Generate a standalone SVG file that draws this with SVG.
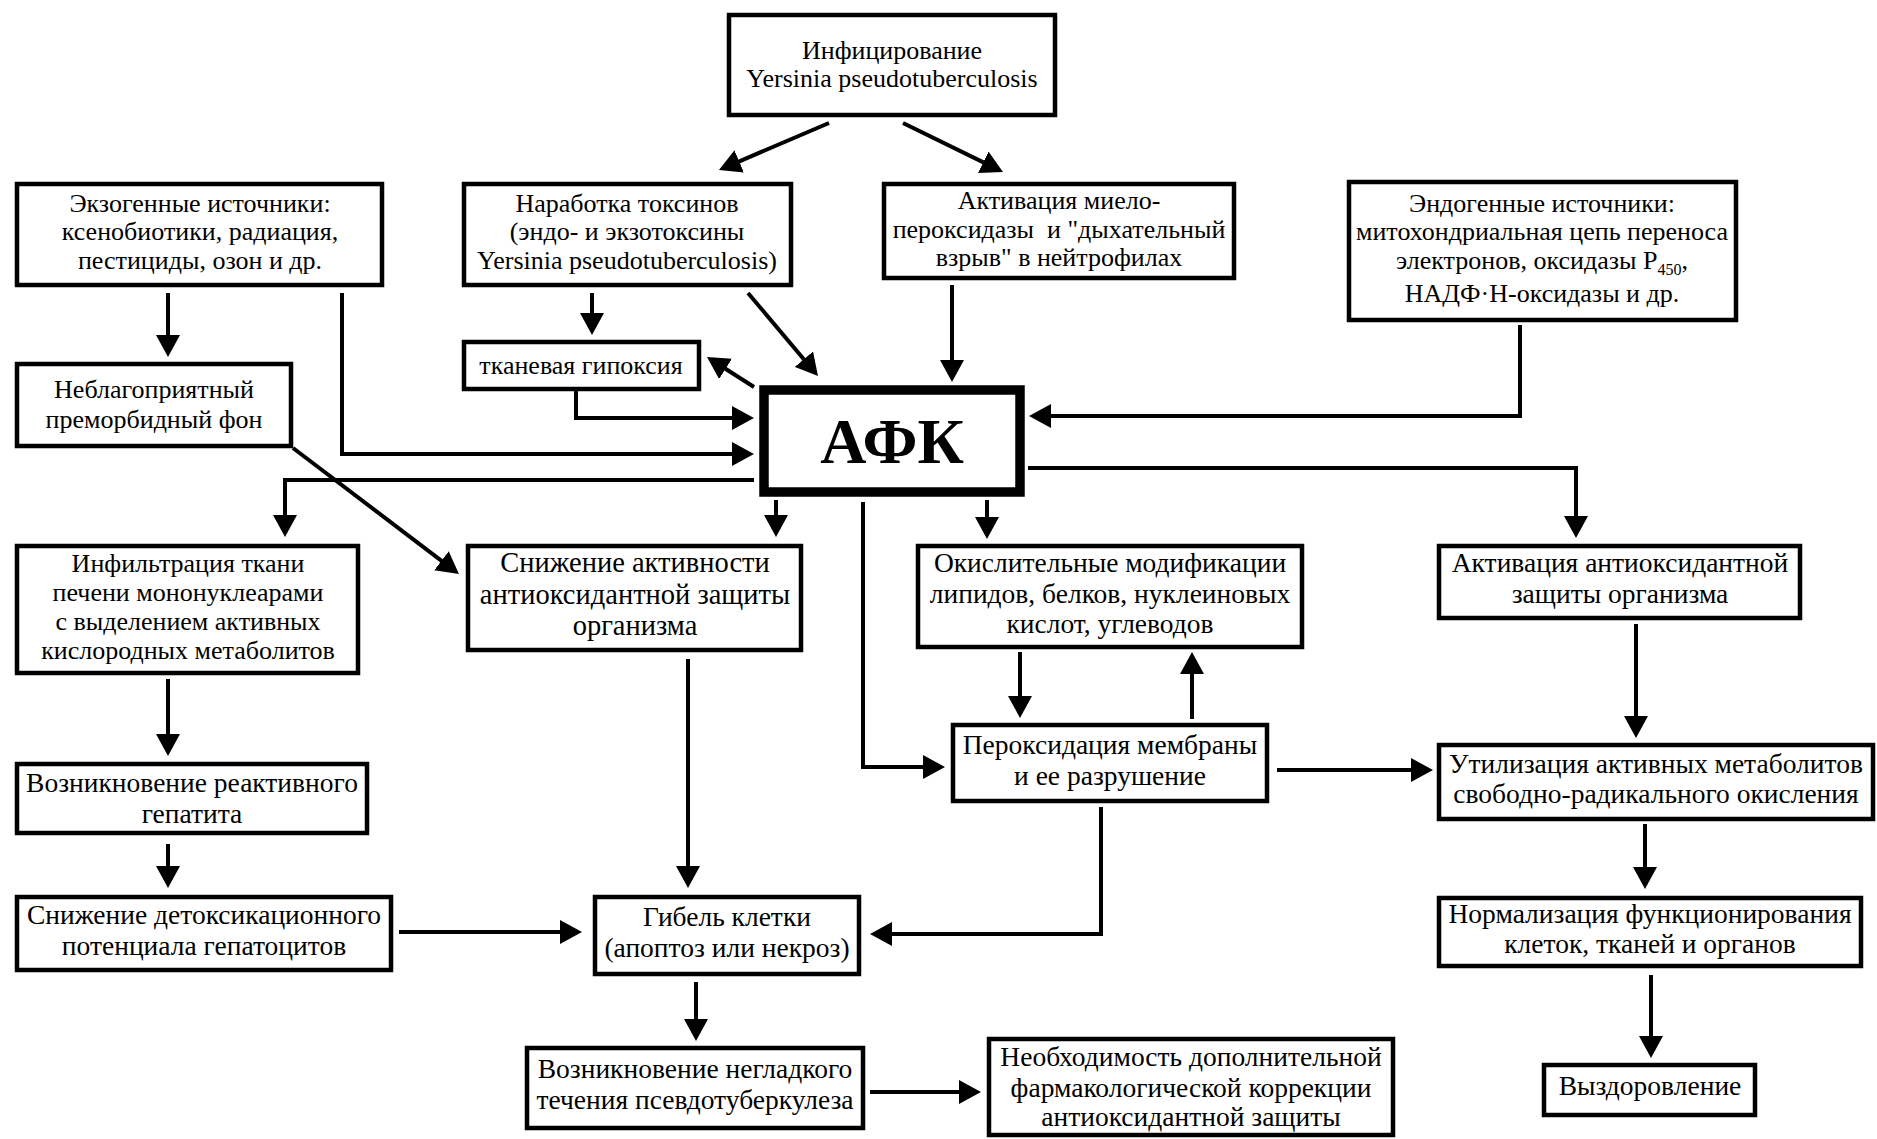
<svg xmlns="http://www.w3.org/2000/svg" width="1877" height="1139" viewBox="0 0 1877 1139">
<style>
.box{fill:#fff;stroke:#000;stroke-width:4.5}
.afk{fill:#fff;stroke:#000;stroke-width:9.5}
.t{font-family:"Liberation Serif","Times New Roman",serif;font-size:26px;text-anchor:middle;fill:#000}
.m{font-size:27.5px}
.l{font-size:28.5px}
.big{font-size:64px;font-weight:bold}
.c{fill:none;stroke:#000;stroke-width:4;marker-end:url(#ah)}
</style>
<defs>
<marker id="ah" markerUnits="userSpaceOnUse" markerWidth="22" markerHeight="24" refX="15" refY="12" orient="auto" viewBox="0 0 22 24">
<path d="M0,0 L22,12 L0,24 Z" fill="#000"/>
</marker>
</defs>
<rect x="0" y="0" width="1877" height="1139" fill="#fff"/>

<g id="connectors">
<line class="c" x1="829" y1="123" x2="725.4" y2="167.3"/>
<line class="c" x1="903" y1="123" x2="996.7" y2="168.9"/>
<line class="c" x1="168" y1="293" x2="168" y2="350"/>
<polyline class="c" points="342,293 342,454 747,454"/>
<line class="c" x1="592" y1="293" x2="592" y2="328"/>
<polyline class="c" points="576,390 576,418 747,418"/>
<line class="c" x1="748" y1="293" x2="813.5" y2="370.7"/>
<line class="c" x1="754" y1="387" x2="712.9" y2="360.8"/>
<line class="c" x1="952" y1="285" x2="952" y2="375"/>
<polyline class="c" points="1520,325 1520,416 1036,416"/>
<polyline class="c" points="754,480 285,480 285,530"/>
<line class="c" x1="293" y1="448" x2="453.4" y2="569.8"/>
<line class="c" x1="776" y1="500" x2="776" y2="530"/>
<polyline class="c" points="863,502 863,767 938,767"/>
<line class="c" x1="987" y1="500" x2="987" y2="532"/>
<polyline class="c" points="1028,468 1576,468 1576,531"/>
<line class="c" x1="1020" y1="652" x2="1020" y2="711"/>
<line class="c" x1="1192" y1="719" x2="1192" y2="659"/>
<line class="c" x1="1277" y1="770" x2="1426" y2="770"/>
<polyline class="c" points="1101,807 1101,934 877,934"/>
<line class="c" x1="688" y1="659" x2="688" y2="881"/>
<line class="c" x1="399" y1="932" x2="575" y2="932"/>
<line class="c" x1="168" y1="679" x2="168" y2="749"/>
<line class="c" x1="168" y1="844" x2="168" y2="881"/>
<line class="c" x1="696" y1="982" x2="696" y2="1034"/>
<line class="c" x1="870" y1="1092" x2="974" y2="1092"/>
<line class="c" x1="1636" y1="624" x2="1636" y2="731"/>
<line class="c" x1="1645" y1="824" x2="1645" y2="882"/>
<line class="c" x1="1651" y1="975" x2="1651" y2="1051"/>
</g>

<g id="n_infect">
<rect class="box" x="729" y="15" width="326" height="100"/>
<text class="t" x="892" y="59">Инфицирование</text>
<text class="t" x="892" y="87">Yersinia pseudotuberculosis</text>
</g>
<g id="n_exo">
<rect class="box" x="17" y="184" width="365" height="101"/>
<text class="t" x="200" y="212">Экзогенные источники:</text>
<text class="t" x="200" y="240">ксенобиотики, радиация,</text>
<text class="t" x="200" y="269">пестициды, озон и др.</text>
</g>
<g id="n_toxins">
<rect class="box" x="464" y="184" width="327" height="101"/>
<text class="t" x="627" y="212">Наработка токсинов</text>
<text class="t" x="627" y="240">(эндо- и экзотоксины</text>
<text class="t" x="627" y="269">Yersinia pseudotuberculosis)</text>
</g>
<g id="n_mpo">
<rect class="box" x="884" y="184" width="350" height="94"/>
<text class="t" x="1059" y="209">Активация миело-</text>
<text class="t" x="1059" y="238" xml:space="preserve">пероксидазы  и "дыхательный</text>
<text class="t" x="1059" y="266">взрыв" в нейтрофилах</text>
</g>
<g id="n_endo">
<rect class="box" x="1349" y="182" width="387" height="138"/>
<text class="t" x="1542" y="212">Эндогенные источники:</text>
<text class="t" x="1542" y="240">митохондриальная цепь переноса</text>
<text class="t" x="1542" y="269">электронов, оксидазы P<tspan font-size="16" dy="6">450</tspan><tspan dy="-6">,</tspan></text>
<text class="t" x="1542" y="302">НАДФ·Н-оксидазы и др.</text>
</g>
<g id="n_hypoxia">
<rect class="box" x="464" y="342" width="235" height="47"/>
<text class="t" x="581" y="374">тканевая гипоксия</text>
</g>
<g id="n_afk">
<rect class="afk" x="764" y="390" width="256" height="102"/>
<text class="t big" x="892" y="463">АФК</text>
</g>
<g id="n_premorbid">
<rect class="box" x="17" y="364" width="274" height="82"/>
<text class="t" x="154" y="398">Неблагоприятный</text>
<text class="t" x="154" y="428">преморбидный фон</text>
</g>
<g id="n_infiltr">
<rect class="box" x="17" y="546" width="341" height="127"/>
<text class="t" x="188" y="572">Инфильтрация ткани</text>
<text class="t" x="188" y="601">печени мононуклеарами</text>
<text class="t" x="188" y="630">с выделением активных</text>
<text class="t" x="188" y="659">кислородных метаболитов</text>
</g>
<g id="n_decrease_ao">
<rect class="box" x="468" y="546" width="333" height="104"/>
<text class="t l" x="635" y="572">Снижение активности</text>
<text class="t l" x="635" y="604">антиоксидантной защиты</text>
<text class="t l" x="635" y="635">организма</text>
</g>
<g id="n_oxid">
<rect class="box" x="918" y="546" width="384" height="101"/>
<text class="t m" x="1110" y="572">Окислительные модификации</text>
<text class="t m" x="1110" y="603">липидов, белков, нуклеиновых</text>
<text class="t m" x="1110" y="633">кислот, углеводов</text>
</g>
<g id="n_activ_ao">
<rect class="box" x="1439" y="546" width="361" height="72"/>
<text class="t m" x="1620" y="572">Активация антиоксидантной</text>
<text class="t m" x="1620" y="603">защиты организма</text>
</g>
<g id="n_perox">
<rect class="box" x="953" y="725" width="314" height="76"/>
<text class="t m" x="1110" y="754">Пероксидация мембраны</text>
<text class="t m" x="1110" y="785">и ее разрушение</text>
</g>
<g id="n_util">
<rect class="box" x="1439" y="745" width="434" height="74"/>
<text class="t m" x="1656" y="773">Утилизация активных метаболитов</text>
<text class="t m" x="1656" y="803">свободно-радикального окисления</text>
</g>
<g id="n_react">
<rect class="box" x="17" y="764" width="350" height="69"/>
<text class="t m" x="192" y="792">Возникновение реактивного</text>
<text class="t m" x="192" y="823">гепатита</text>
</g>
<g id="n_detox">
<rect class="box" x="17" y="897" width="374" height="73"/>
<text class="t m" x="204" y="924">Снижение детоксикационного</text>
<text class="t m" x="204" y="955">потенциала гепатоцитов</text>
</g>
<g id="n_death">
<rect class="box" x="595" y="897" width="264" height="77"/>
<text class="t m" x="727" y="926">Гибель клетки</text>
<text class="t m" x="727" y="957">(апоптоз или некроз)</text>
</g>
<g id="n_course">
<rect class="box" x="527" y="1048" width="336" height="80"/>
<text class="t m" x="695" y="1078">Возникновение негладкого</text>
<text class="t m" x="695" y="1109">течения псевдотуберкулеза</text>
</g>
<g id="n_need">
<rect class="box" x="989" y="1039" width="404" height="96"/>
<text class="t m" x="1191" y="1066">Необходимость дополнительной</text>
<text class="t m" x="1191" y="1097">фармакологической коррекции</text>
<text class="t m" x="1191" y="1126">антиоксидантной защиты</text>
</g>
<g id="n_norm">
<rect class="box" x="1439" y="898" width="422" height="68"/>
<text class="t m" x="1650" y="923">Нормализация функционирования</text>
<text class="t m" x="1650" y="953">клеток, тканей и органов</text>
</g>
<g id="n_recovery">
<rect class="box" x="1544" y="1065" width="211" height="50"/>
<text class="t m" x="1650" y="1095">Выздоровление</text>
</g>
</svg>
